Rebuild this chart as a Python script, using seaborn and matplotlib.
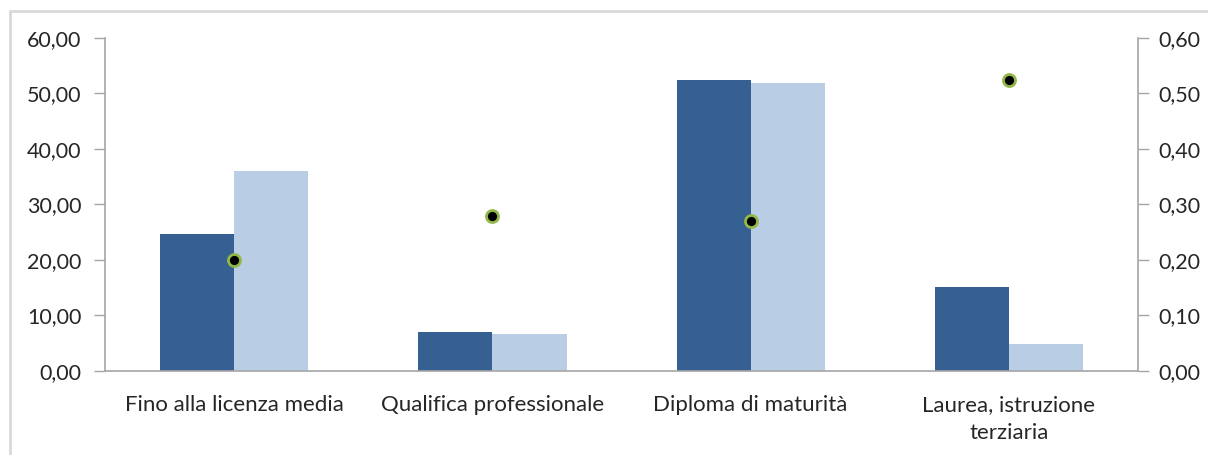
import numpy as np
import pandas as pd
import matplotlib
matplotlib.use("Agg")
import matplotlib.pyplot as plt
import seaborn as sns
from matplotlib.ticker import FuncFormatter, FixedLocator
from matplotlib.patches import Rectangle

# data
categories = ["Fino alla licenza media", "Qualifica professionale",
              "Diploma di maturità", "Laurea, istruzione\nterziaria"]
series_names = ["Serie 1", "Serie 2"]
serie_1 = [24.6, 7.0, 52.5, 15.1]
serie_2 = [36.1, 6.6, 51.9, 4.9]
points = [0.20, 0.28, 0.27, 0.525]

bar_colors = ["#376092", "#B9CDE5"]
grey = "#A6A6A6"
txt = "#262626"

sns.set_style("white")
plt.rcParams["font.family"] = ["Lato", "DejaVu Sans"]

df = pd.DataFrame({
    "cat": categories * 2,
    "serie": [series_names[0]] * 4 + [series_names[1]] * 4,
    "val": serie_1 + serie_2,
})

fig = plt.figure(figsize=(12.08, 4.55), dpi=100)
ax = fig.add_axes([0.087, 0.1846, 0.855, 0.732])

sns.barplot(data=df, x="cat", y="val", hue="serie", order=categories,
            palette=bar_colors, width=0.574, gap=0, saturation=1,
            edgecolor="none", linewidth=0, legend=False, ax=ax)

ax2 = ax.twinx()
sns.scatterplot(x=np.arange(len(categories)), y=points, ax=ax2,
                color="black", edgecolor="#92B84A", linewidth=2,
                s=75, zorder=5, legend=False)

ax.set_xlim(-0.5, len(categories) - 0.5)
ax.set_ylim(0, 60)
ax2.set_ylim(0, 0.6)
ax.set_yticks(np.arange(0, 61, 10))
ax2.set_yticks(np.arange(0, 0.61, 0.1))
fmt = FuncFormatter(lambda v, p: f"{v:.2f}".replace(".", ","))
ax.yaxis.set_major_formatter(fmt)
ax2.yaxis.set_major_formatter(fmt)

# category labels in the middle, tick marks at the boundaries
ax.xaxis.set_major_locator(FixedLocator(np.arange(-0.5, len(categories), 1)))
ax.xaxis.set_minor_locator(FixedLocator(np.arange(len(categories))))
ax.set_xticklabels([""] * (len(categories) + 1))
ax.set_xticklabels(categories, minor=True, linespacing=1.5)
ax.tick_params(axis="x", which="major", length=7, width=1, color=grey, direction="out")
ax.tick_params(axis="x", which="minor", length=0, pad=17, labelsize=16, labelcolor=txt)
ax.tick_params(axis="y", length=8, width=1, color=grey, direction="out",
               labelsize=15.5, labelcolor=txt, pad=9)
ax2.tick_params(axis="y", length=8, width=1, color=grey, direction="out",
                labelsize=15.5, labelcolor=txt, pad=7)

ax.set_xlabel("")
ax.set_ylabel("")
ax2.set_ylabel("")

for a in (ax, ax2):
    a.spines["top"].set_visible(False)
    for s in ("left", "right", "bottom"):
        a.spines[s].set_color(grey)
        a.spines[s].set_linewidth(1.2)
ax.spines["right"].set_visible(False)
ax2.spines["left"].set_visible(False)
ax2.spines["bottom"].set_visible(False)

# outer chart frame (cropped on the right and bottom)
fig.patches.append(Rectangle((10 / 1208, -0.1), 1.2, 1 - 11 / 455 + 0.1,
                             transform=fig.transFigure, fill=False,
                             edgecolor="#D9D9D9", linewidth=2))

fig.savefig("out.png", dpi=100)
